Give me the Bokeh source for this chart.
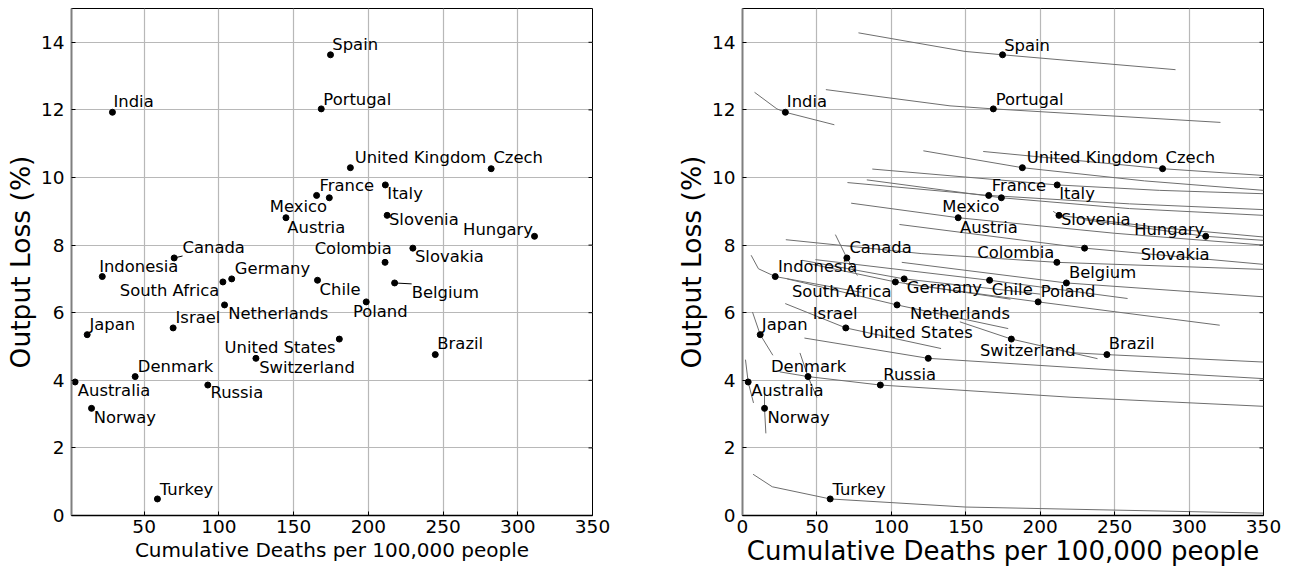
import math
from bokeh.plotting import figure
from bokeh.layouts import row
from bokeh.models import ColumnDataSource, Range1d, FixedTicker
from bokeh.core.properties import value
from bokeh.embed import file_html
from bokeh.resources import INLINE

# ---------------- data ----------------
countries = ["Spain", "Portugal", "India", "United Kingdom", "Czech", "France", "Mexico",
             "Austria", "Italy", "Slovenia", "Hungary", "Slovakia", "Colombia", "Canada",
             "Indonesia", "Germany", "South Africa", "Chile", "Belgium", "Netherlands",
             "Poland", "Israel", "Japan", "United States", "Switzerland", "Brazil",
             "Denmark", "Australia", "Russia", "Norway", "Turkey"]
deaths = [174.7, 168.5, 28.8, 188.0, 282.2, 165.4, 173.9,
          144.9, 211.4, 212.6, 311.2, 229.8, 211.2, 70.1,
          22.0, 108.6, 102.7, 166.0, 217.6, 103.8,
          198.6, 69.4, 11.9, 180.6, 124.8, 244.8,
          44.0, 3.8, 92.6, 14.8, 58.9]
output_loss = [13.63, 12.03, 11.93, 10.29, 10.26, 9.47, 9.40,
               8.81, 9.78, 8.88, 8.26, 7.91, 7.49, 7.62,
               7.07, 7.00, 6.91, 6.96, 6.88, 6.23,
               6.32, 5.55, 5.35, 5.22, 4.65, 4.76,
               4.11, 3.95, 3.86, 3.17, 0.49]

# label anchors (left edge, vertical middle) for each panel
left_label_x = [175.9, 169.9, 29.5, 190.9, 283.7, 167.4, 134.1,
                145.8, 212.7, 213.8, 263.4, 231.2, 164.1, 75.7,
                19.9, 110.7, 33.7, 167.4, 229.0, 106.3,
                189.7, 71.0, 13.4, 103.8, 127.0, 246.2,
                45.8, 5.6, 94.4, 16.3, 60.5]
left_label_y = [13.93, 12.31, 12.25, 10.60, 10.59, 9.76, 9.14,
                8.53, 9.52, 8.76, 8.45, 7.65, 7.89, 7.92,
                7.37, 7.30, 6.66, 6.68, 6.61, 5.97,
                6.05, 5.87, 5.65, 4.97, 4.38, 5.09,
                4.42, 3.69, 3.63, 2.90, 0.78]
right_label_x = [175.8, 170.1, 29.8, 190.9, 284.2, 167.4, 134.2,
                 146.1, 212.8, 213.9, 263.1, 267.6, 157.7, 71.8,
                 23.8, 110.3, 33.2, 167.4, 219.3, 112.6,
                 200.3, 47.2, 13.0, 80.1, 159.5, 246.1,
                 19.1, 5.8, 94.6, 16.8, 60.4]
right_label_y = [13.92, 12.31, 12.25, 10.60, 10.60, 9.76, 9.14,
                 8.53, 9.52, 8.75, 8.45, 7.72, 7.79, 7.94,
                 7.37, 6.74, 6.64, 6.69, 7.18, 5.99,
                 6.64, 5.97, 5.65, 5.41, 4.89, 5.09,
                 4.42, 3.69, 4.17, 2.90, 0.78]

# curves through each country (right panel)
curve_x = [
    [77.9, 149.5, 174.7, 290.9],          # Spain
    [56.0, 139.4, 168.5, 321.1],          # Portugal
    [8.1, 23.1, 28.8, 61.7],              # India
    [121.5, 188.0, 270.0, 350.0],         # United Kingdom
    [161.7, 282.2, 350.0],                # Czech
    [70.5, 165.4, 260.0, 350.0],          # France
    [83.5, 173.9, 260.0, 350.0],          # Mexico
    [73.0, 144.9, 250.0, 350.0],          # Austria
    [87.2, 211.4, 280.0, 350.0],          # Italy
    [208.7, 212.6, 280.0, 350.0],         # Slovenia
    [230.0, 311.2, 350.0],                # Hungary
    [105.4, 229.8, 350.0],                # Slovakia
    [29.1, 120.0, 211.2, 350.0],          # Colombia
    [62.4, 70.1, 77.2],                   # Canada
    [5.8, 10.7, 22.0, 80.0],              # Indonesia
    [40.0, 108.6, 200.0],                 # Germany
    [45.0, 102.7, 180.0],                 # South Africa
    [49.0, 166.0, 258.7],                 # Chile
    [107.0, 217.6, 350.0],                # Belgium
    [30.0, 103.8, 178.5],                 # Netherlands
    [110.0, 198.6, 320.6],                # Poland
    [28.7, 69.4, 133.4],                  # Israel
    [6.7, 11.9, 20.4],                    # Japan
    [146.0, 180.6, 238.5],                # United States
    [41.6, 124.8, 250.0, 350.0],          # Switzerland
    [220.0, 244.8, 350.0],                # Brazil
    [38.6, 44.0, 50.0],                   # Denmark
    [2.0, 3.8, 7.4],                      # Australia
    [25.0, 44.0, 92.6, 220.0, 350.0],     # Russia
    [14.8, 14.8, 15.7],                   # Norway
    [7.1, 20.0, 58.9, 150.0, 350.0],      # Turkey
]
curve_y = [
    [14.28, 13.73, 13.63, 13.19],
    [12.60, 12.12, 12.03, 11.63],
    [12.52, 12.03, 11.93, 11.56],
    [10.79, 10.29, 9.90, 9.62],
    [10.77, 10.26, 10.06],
    [9.85, 9.47, 9.22, 9.05],
    [9.93, 9.40, 9.08, 8.88],
    [9.24, 8.81, 8.35, 8.00],
    [10.25, 9.78, 9.62, 9.52],
    [9.00, 8.88, 8.52, 8.24],
    [8.75, 8.26, 8.14],
    [8.61, 7.91, 7.43],
    [8.16, 7.75, 7.49, 7.28],
    [8.31, 7.62, 7.10],
    [7.70, 7.30, 7.07, 6.60],
    [7.55, 7.00, 6.55],
    [7.45, 6.91, 6.40],
    [7.57, 6.96, 6.42],
    [7.49, 6.88, 6.47],
    [7.00, 6.23, 5.53],
    [6.85, 6.32, 5.63],
    [6.27, 5.55, 4.94],
    [6.02, 5.35, 4.74],
    [5.73, 5.22, 4.64],
    [5.25, 4.65, 4.30, 4.05],
    [4.82, 4.76, 4.54],
    [4.81, 4.11, 3.49],
    [4.61, 3.95, 3.33],
    [4.25, 4.11, 3.86, 3.50, 3.23],
    [3.61, 3.17, 2.43],
    [1.22, 0.85, 0.49, 0.25, 0.07],
]

y_ticks = [0, 2, 4, 6, 8, 10, 12, 14]
x_ticks_left = [50, 100, 150, 200, 250, 300, 350]
x_ticks_right = [0, 50, 100, 150, 200, 250, 300, 350]

FONT = "DejaVu Sans"
LABEL_PX = 16.4
FRAME_W = 521
FRAME_H = 507


def make_panel(xstart, xticks, label_x, label_y, xlabel_size, xlabel_standoff, width,
               right_border, with_curves, with_leaders):
    p = figure(width=width, height=570,
               x_range=Range1d(xstart, 350), y_range=Range1d(0, 15),
               min_border_left=71, min_border_right=right_border,
               min_border_top=8, min_border_bottom=55,
               output_backend="svg", toolbar_location=None)
    p.outline_line_color = "black"
    p.outline_line_width = 1
    p.background_fill_color = "white"
    p.border_fill_color = "white"

    p.xgrid.ticker = FixedTicker(ticks=xticks)
    p.ygrid.ticker = FixedTicker(ticks=y_ticks)
    for g in (p.xgrid, p.ygrid):
        g.grid_line_color = "#b8b8b8"
        g.grid_line_width = 1.2

    for ax in (p.xaxis[0], p.yaxis[0]):
        ax.major_tick_in = 4
        ax.major_tick_out = 0
        ax.minor_tick_line_color = None
        ax.major_label_text_font = FONT
        ax.major_label_text_font_size = "18.5px"
        ax.major_label_text_color = "black"
        ax.axis_label_text_font = FONT
        ax.axis_label_text_font_style = "normal"
        ax.axis_label_text_color = "black"
    p.xaxis[0].ticker = FixedTicker(ticks=xticks)
    p.yaxis[0].ticker = FixedTicker(ticks=y_ticks)
    p.xaxis[0].axis_label = "Cumulative Deaths per 100,000 people"
    p.xaxis[0].axis_label_text_font_size = xlabel_size
    p.xaxis[0].major_label_standoff = 4
    p.xaxis[0].axis_label_standoff = xlabel_standoff
    p.xaxis[0].axis_line_color = "black"
    p.xaxis[0].axis_line_width = 1.5
    p.yaxis[0].axis_label = "Output Loss (%)"
    p.yaxis[0].axis_label_text_font_size = "26.5px"
    p.yaxis[0].major_label_standoff = 7
    p.yaxis[0].axis_label_standoff = 2
    p.yaxis[0].axis_line_color = "#7f7f7f"
    p.yaxis[0].axis_line_width = 2

    # inward ticks on the right edge
    p.ray(x=[350] * len(y_ticks), y=y_ticks, length=4, length_units="screen",
          angle=math.pi, line_color="black", line_width=1)

    if with_curves:
        p.multi_line(xs=curve_x, ys=curve_y, line_color="#6e6e6e", line_width=1)

    if with_leaders:
        # short leader lines from each dot to the nearest edge of its label box
        sx = FRAME_W / (350 - xstart)
        sy = FRAME_H / 15.0
        lx0, ly0, lx1, ly1 = [], [], [], []
        for name, x, y, tx, ty in zip(countries, deaths, output_loss, label_x, label_y):
            w = len(name) * 0.6 * LABEL_PX / sx
            h = 0.5 * LABEL_PX / sy
            nx = min(max(x, tx), tx + w)
            ny = min(max(y, ty - h), ty + h)
            d = math.hypot((nx - x) * sx, (ny - y) * sy)
            if d > 7:
                lx0.append(x); ly0.append(y); lx1.append(nx); ly1.append(ny)
        p.segment(x0=lx0, y0=ly0, x1=lx1, y1=ly1, line_color="black", line_width=1)

    p.scatter(deaths, output_loss, size=6, color="black")
    src = ColumnDataSource(dict(x=label_x, y=label_y, t=countries))
    p.text(x="x", y="y", text="t", source=src, text_font=value(FONT),
           text_font_size=f"{LABEL_PX}px", text_align="left", text_baseline="middle",
           text_color="black")
    return p


p1 = make_panel(1.4, x_ticks_left, left_label_x, left_label_y, "20px", 2, 671, 79, False, True)
p2 = make_panel(0.0, x_ticks_right, right_label_x, right_label_y, "26px", 0, 612, 20, True, False)

layout = row(p1, p2)
open("out.html", "w").write(file_html(layout, INLINE))
